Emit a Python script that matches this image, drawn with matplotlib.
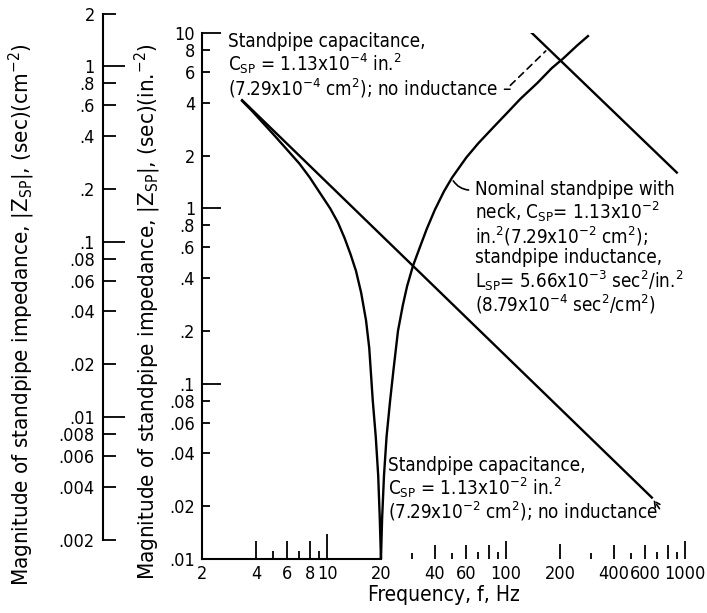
import numpy as np
import matplotlib
matplotlib.use('Agg')
import matplotlib.pyplot as plt
from matplotlib import font_manager as fm

# pick a narrow face if one is installed, else Roboto
narrow = [f for f in fm.fontManager.ttflist
          if f.stretch in ('condensed', 'semi-condensed', 'extra-condensed')
          or 'Narrow' in f.name or 'Condensed' in f.name]
if narrow:
    fam, stretch, scale = narrow[0].name, narrow[0].stretch, 1.0
else:
    fam, stretch, scale = 'Roboto', 'normal', 0.85
plt.rcParams['font.family'] = [fam, 'DejaVu Sans']
plt.rcParams['font.stretch'] = stretch
plt.rcParams['mathtext.fontset'] = 'custom'
plt.rcParams['mathtext.rm'] = fam
plt.rcParams['mathtext.it'] = fam

# Data (frequency in Hz, impedance in sec/in.^2)
cap_small_f = [138, 900]          # C_SP = 1.13e-4, no inductance
cap_small_z = [10.1, 1.6]
cap_big_f = [3.35, 653]           # C_SP = 1.13e-2, no inductance
cap_big_z = [4.14, 0.0224]
neck_f = [3.35, 3.8, 4.5, 5, 6, 7, 8, 9, 10.4, 11.5, 12.5, 13.5, 14.5, 15.5, 16.5,
          17.2, 18, 18.7, 19.3, 19.7, 20,
          20.3, 20.8, 21.5, 22.5, 23.5, 24.9, 26.5, 28, 30.2, 33, 36, 40, 45, 50,
          60, 70, 85, 100, 120, 150, 180, 210, 250, 287]
neck_z = [4.1, 3.6, 2.98, 2.65, 2.15, 1.8, 1.5, 1.25, 1.0, 0.83, 0.68, 0.55, 0.44, 0.33, 0.23,
          0.16, 0.08, 0.05, 0.03, 0.017, 0.01,
          0.017, 0.03, 0.05, 0.08, 0.12, 0.2, 0.28, 0.36, 0.47, 0.6, 0.76, 0.98, 1.25, 1.5,
          1.95, 2.35, 2.9, 3.45, 4.2, 5.2, 6.3, 7.2, 8.5, 9.6]

in2_to_cm2 = 6.4516

y_ticks = [10, 8, 6, 4, 2, 1, .8, .6, .4, .2, .1, .08, .06, .04, .02, .01]
y_labels = ['10', '8', '6', '4', '2', '1', '.8', '.6', '.4', '.2', '.1', '.08', '.06', '.04', '.02', '.01']
cm_ticks = [2, 1, .8, .6, .4, .2, .1, .08, .06, .04, .02, .01, .008, .006, .004, .002]
cm_labels = ['2', '1', '.8', '.6', '.4', '.2', '.1', '.08', '.06', '.04', '.02', '.01',
             '.008', '.006', '.004', '.002']
x_ticks = [2, 4, 5, 6, 7, 8, 9, 10, 20, 30, 40, 50, 60, 70, 80, 90, 100,
           200, 300, 400, 500, 600, 700, 800, 900, 1000]
x_labels = ['2', '4', '', '6', '', '8', '', '10', '20', '', '40', '', '60', '', '', '', '100',
            '200', '', '400', '', '600', '', '', '', '1000']
x_len = [0, 13, 6, 13, 6, 13, 6, 18, 0, 4, 10, 4, 10, 5, 10, 5, 13,
         11, 4, 10, 4, 10, 5, 10, 5, 13]

W, H = 707, 613
fig = plt.figure(figsize=(W / 100, H / 100), dpi=100)
ax = fig.add_axes([202 / W, 1 - 559 / H, 483 / W, 526 / H])
ax.set_xscale('log')
ax.set_yscale('log')
ax.set_xlim(2, 1000)
ax.set_ylim(0.01, 10)

lw = 1.7
ax.plot(cap_small_f, cap_small_z, color='black', lw=lw)
ax.plot(cap_big_f, cap_big_z, color='black', lw=lw)
ax.plot(neck_f, neck_z, color='black', lw=lw)

for s in ['top', 'right']:
    ax.spines[s].set_visible(False)
ax.spines['left'].set_linewidth(1.5)
ax.spines['bottom'].set_linewidth(1.5)
ax.spines['bottom'].set_bounds(2, 20)

tfs = 13 * scale
ax.minorticks_off()
ax.set_yticks(y_ticks, y_labels)
ax.set_xticks(x_ticks, x_labels)
ax.tick_params(axis='both', direction='in', width=1.3, labelsize=tfs, color='black')
ax.tick_params(axis='y', pad=5)
ax.tick_params(axis='x', pad=4)
for t, v in zip(ax.yaxis.get_major_ticks(), y_ticks):
    t.tick1line.set_markersize(14 if v in (10, 1, .1, .01) else 6)
for t, n in zip(ax.xaxis.get_major_ticks(), x_len):
    t.tick1line.set_markersize(n)

# second (cm) scale on the far left
lo, hi = np.log10(ax.get_ylim())
b0, h0 = 1 - 559 / H, 526 / H
def frac(z):
    return b0 + h0 * (np.log10(z) - lo) / (hi - lo)
yb = frac(cm_ticks[-1] * in2_to_cm2)
yt = frac(cm_ticks[0] * in2_to_cm2)
ax2 = fig.add_axes([103 / W, yb, 0.0001, yt - yb])
ax2.set_yscale('log')
ax2.set_ylim(cm_ticks[-1], cm_ticks[0])
for s in ['top', 'right', 'bottom']:
    ax2.spines[s].set_visible(False)
ax2.spines['left'].set_linewidth(1.5)
ax2.xaxis.set_visible(False)
ax2.minorticks_off()
ax2.set_yticks(cm_ticks, cm_labels)
ax2.tick_params(axis='y', direction='in', width=1.3, labelsize=tfs, pad=6)
for t, v in zip(ax2.yaxis.get_major_ticks(), cm_ticks):
    t.tick1line.set_markersize(16 if v in (1, .1, .01) else 9)

lfs = 16 * scale
fig.text(22 / W, 1 - 315 / H,
         r'Magnitude of standpipe impedance, $|\mathrm{Z_{SP}}|$, (sec)(cm$^{-2}$)',
         rotation=90, ha='center', va='center', fontsize=lfs)
fig.text(148 / W, 1 - 312 / H,
         r'Magnitude of standpipe impedance, $|\mathrm{Z_{SP}}|$, (sec)(in.$^{-2}$)',
         rotation=90, ha='center', va='center', fontsize=lfs)
ax.set_xlabel('Frequency, f, Hz', fontsize=15 * scale, labelpad=2)

fs = 13.5 * scale
ax.text(2.8, 10.1,
        'Standpipe capacitance,\n'
        r'C$_{\mathrm{SP}}$ = 1.13x10$^{-4}$ in.$^{2}$' '\n'
        r'(7.29x10$^{-4}$ cm$^{2}$); no inductance –',
        ha='left', va='top', fontsize=fs, linespacing=1.0)
ax.annotate('', xy=(171, 8.1), xytext=(103, 4.9),
            arrowprops=dict(arrowstyle='-', ls=(0, (4, 3)), lw=1.2, color='black'))

ax.text(67, 1.45,
        'Nominal standpipe with\n'
        r'neck, C$_{\mathrm{SP}}$= 1.13x10$^{-2}$' '\n'
        r'in.$^{2}$(7.29x10$^{-2}$ cm$^{2}$);' '\n'
        'standpipe inductance,\n'
        r'L$_{\mathrm{SP}}$= 5.66x10$^{-3}$ sec$^{2}$/in.$^{2}$' '\n'
        r'(8.79x10$^{-4}$ sec$^{2}$/cm$^{2}$)',
        ha='left', va='top', fontsize=fs, linespacing=1.02)
ax.annotate('', xy=(49.8, 1.48), xytext=(64, 1.27),
            arrowprops=dict(arrowstyle='-', lw=1.2, color='black',
                            connectionstyle='arc3,rad=-0.3'))

ax.text(21.9, 0.0388,
        'Standpipe capacitance,\n'
        r'C$_{\mathrm{SP}}$ = 1.13x10$^{-2}$ in.$^{2}$' '\n'
        r'(7.29x10$^{-2}$ cm$^{2}$); no inductance',
        ha='left', va='top', fontsize=fs, linespacing=1.0)
ax.annotate('', xy=(652, 0.0224), xytext=(735, 0.0188),
            arrowprops=dict(arrowstyle='->', ls=(0, (3, 2)), lw=1.2, color='black'))

fig.savefig('out.png', dpi=100)
